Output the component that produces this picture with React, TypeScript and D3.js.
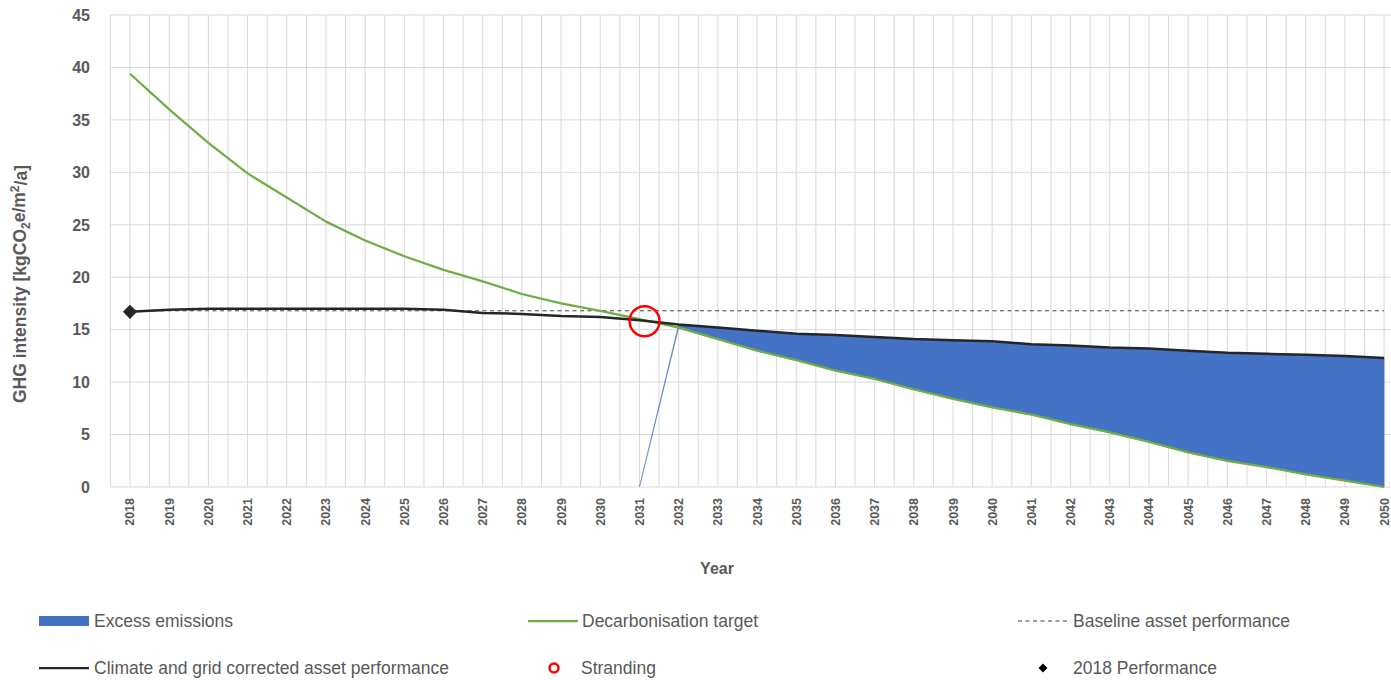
import React from "react";
import * as d3 from "d3";

const years: number[] = [
  2018, 2019, 2020, 2021, 2022, 2023, 2024, 2025, 2026, 2027, 2028, 2029, 2030,
  2031, 2032, 2033, 2034, 2035, 2036, 2037, 2038, 2039, 2040, 2041, 2042, 2043,
  2044, 2045, 2046, 2047, 2048, 2049, 2050,
];

const decarbonisationTarget: number[] = [
  39.4, 36.0, 32.8, 29.9, 27.6, 25.3, 23.5, 22.0, 20.7, 19.6, 18.4, 17.5, 16.8,
  16.0, 15.2, 14.1, 13.0, 12.1, 11.1, 10.3, 9.3, 8.4, 7.6, 6.9, 6.0, 5.2,
  4.3, 3.3, 2.5, 1.9, 1.2, 0.6, 0.0,
];

const climateCorrected: number[] = [
  16.7, 16.9, 17.0, 17.0, 17.0, 17.0, 17.0, 17.0, 16.9, 16.6, 16.5, 16.3, 16.2,
  15.9, 15.5, 15.2, 14.9, 14.6, 14.5, 14.3, 14.1, 14.0, 13.9, 13.6, 13.5, 13.3,
  13.2, 13.0, 12.8, 12.7, 12.6, 12.5, 12.3,
];

const baselineValue = 16.8;
const performance2018 = { year: 2018, value: 16.7 };
const stranding = { year: 2031.13, value: 15.8 };
const excessStartYear = 2031;

const yTicks: number[] = [0, 5, 10, 15, 20, 25, 30, 35, 40, 45];

const legendItems = [
  { key: "excess", label: "Excess emissions" },
  { key: "target", label: "Decarbonisation target" },
  { key: "baseline", label: "Baseline asset performance" },
  { key: "climate", label: "Climate and grid corrected asset performance" },
  { key: "stranding", label: "Stranding" },
  { key: "perf", label: "2018 Performance" },
];

const COLORS = {
  excess: "#4472C4",
  target: "#70AD47",
  climate: "#262626",
  baseline: "#404040",
  stranding: "#FF0000",
  grid: "#D9D9D9",
  text: "#595959",
};

const FONT = "'Liberation Sans', Arial, sans-serif";

export default function App() {
  const width = 1391;
  const height = 680;
  const plotTop = 15;
  const plotBottom = 487;

  const x = d3
    .scaleLinear()
    .domain([years[0] - 0.5, years[years.length - 1] + 0.5])
    .range([110.4, 1403.7]);
  const y = d3.scaleLinear().domain([0, 45]).range([plotBottom, plotTop]);

  const vGrid: number[] = [];
  years.forEach((yr) => {
    vGrid.push(yr - 0.5);
    vGrid.push(yr);
  });
  vGrid.push(years[years.length - 1] + 0.5);

  const targetData = years.map((yr, i) => ({ yr, v: decarbonisationTarget[i] }));
  const climateData = years.map((yr, i) => ({ yr, v: climateCorrected[i] }));

  const lineGen = d3
    .line<{ yr: number; v: number }>()
    .x((d) => x(d.yr))
    .y((d) => y(d.v));

  const excessData = years
    .map((yr, i) => ({
      yr,
      lo: yr <= excessStartYear ? 0 : decarbonisationTarget[i],
      hi: yr <= excessStartYear ? 0 : climateCorrected[i],
    }))
    .filter((d) => d.yr >= excessStartYear);

  const areaGen = d3
    .area<{ yr: number; lo: number; hi: number }>()
    .x((d) => x(d.yr))
    .y0((d) => y(d.lo))
    .y1((d) => y(d.hi));

  const square = d3.symbol().type(d3.symbolSquare);

  const legendPos: Record<string, { x: number; y: number }> = {
    excess: { x: 39, y: 621 },
    target: { x: 528, y: 621 },
    baseline: { x: 1018, y: 621 },
    climate: { x: 39, y: 668 },
    stranding: { x: 528, y: 668 },
    perf: { x: 1018, y: 668 },
  };

  const renderSwatch = (key: string, px: number, py: number) => {
    switch (key) {
      case "excess":
        return <rect x={px} y={py - 5} width={50} height={10} fill={COLORS.excess} />;
      case "target":
        return <line x1={px} x2={px + 50} y1={py} y2={py} stroke={COLORS.target} strokeWidth={2.25} />;
      case "baseline":
        return (
          <line x1={px} x2={px + 50} y1={py} y2={py} stroke={COLORS.baseline} strokeWidth={1} strokeDasharray="4,3.5" />
        );
      case "climate":
        return <line x1={px} x2={px + 50} y1={py} y2={py} stroke={COLORS.climate} strokeWidth={2.25} />;
      case "stranding":
        return <circle cx={px + 26} cy={py} r={4.5} fill="none" stroke={COLORS.stranding} strokeWidth={2.5} />;
      case "perf":
        return <path d={square.size(40)() || ""} transform={`translate(${px + 25},${py}) rotate(45)`} fill="#000" />;
      default:
        return null;
    }
  };

  const textOffset: Record<string, number> = {
    excess: 55,
    target: 54,
    baseline: 55,
    climate: 55,
    stranding: 53,
    perf: 55,
  };

  return (
    <svg
      width={width}
      height={height}
      style={{ position: "absolute", left: 0, top: 0, background: "#fff" }}
      fontFamily={FONT}
    >
      <rect x={0} y={0} width={width} height={height} fill="#fff" />
      {/* horizontal grid */}
      {yTicks.map((t) => (
        <line key={`h${t}`} x1={x.range()[0]} x2={x.range()[1]} y1={y(t)} y2={y(t)} stroke={COLORS.grid} strokeWidth={1} />
      ))}
      {/* vertical grid */}
      {vGrid.map((g) => (
        <line key={`v${g}`} x1={x(g)} x2={x(g)} y1={plotTop} y2={plotBottom} stroke={COLORS.grid} strokeWidth={1} />
      ))}

      {/* y tick labels */}
      {yTicks.map((t) => (
        <text
          key={`yt${t}`}
          x={90}
          y={y(t)}
          dy="0.36em"
          textAnchor="end"
          fontSize={16}
          fontWeight="bold"
          fill={COLORS.text}
        >
          {t}
        </text>
      ))}

      {/* x tick labels */}
      {years.map((yr) => (
        <text
          key={`xt${yr}`}
          transform={`translate(${x(yr)},${plotBottom + 11}) rotate(-90)`}
          dy="0.36em"
          textAnchor="end"
          fontSize={12.5}
          fontWeight="bold"
          fill={COLORS.text}
        >
          {yr}
        </text>
      ))}

      {/* axis titles */}
      <text x={717} y={574} textAnchor="middle" fontSize={16} fontWeight="bold" fill={COLORS.text}>
        Year
      </text>
      <text
        transform={`translate(20,284) rotate(-90)`}
        textAnchor="middle"
        dy="0.36em"
        fontSize={17.5}
        fontWeight="bold"
        fill={COLORS.text}
      >
        GHG intensity [kgCO
        <tspan fontSize={12} dy="0.3em">2</tspan>
        <tspan dy="-0.3em">e/m</tspan>
        <tspan fontSize={12} dy="-0.45em">2</tspan>
        <tspan dy="0.45em">/a]</tspan>
      </text>

      {/* excess area */}
      <path d={areaGen(excessData) || ""} fill={COLORS.excess} stroke={COLORS.excess} strokeWidth={0.5} />

      {/* baseline */}
      <line
        x1={x(years[0])}
        x2={x(years[years.length - 1])}
        y1={y(baselineValue)}
        y2={y(baselineValue)}
        stroke={COLORS.baseline}
        strokeWidth={1}
        strokeDasharray="4,3.5"
      />

      {/* target line */}
      <path d={lineGen(targetData) || ""} fill="none" stroke={COLORS.target} strokeWidth={2.25} strokeLinejoin="round" />
      {/* climate corrected line */}
      <path d={lineGen(climateData) || ""} fill="none" stroke={COLORS.climate} strokeWidth={2.5} strokeLinejoin="round" />

      {/* 2018 performance */}
      <path
        d={square.size(100)() || ""}
        transform={`translate(${x(performance2018.year)},${y(performance2018.value)}) rotate(45)`}
        fill="#262626"
      />

      {/* stranding */}
      <circle
        cx={x(stranding.year)}
        cy={y(stranding.value)}
        r={15}
        fill="none"
        stroke={COLORS.stranding}
        strokeWidth={2.5}
      />

      {/* legend */}
      {legendItems.map((it) => {
        const p = legendPos[it.key];
        return (
          <g key={it.key}>
            {renderSwatch(it.key, p.x, p.y)}
            <text x={p.x + textOffset[it.key]} y={p.y} dy="0.35em" fontSize={17.5} fill={COLORS.text}>
              {it.label}
            </text>
          </g>
        );
      })}
    </svg>
  );
}
